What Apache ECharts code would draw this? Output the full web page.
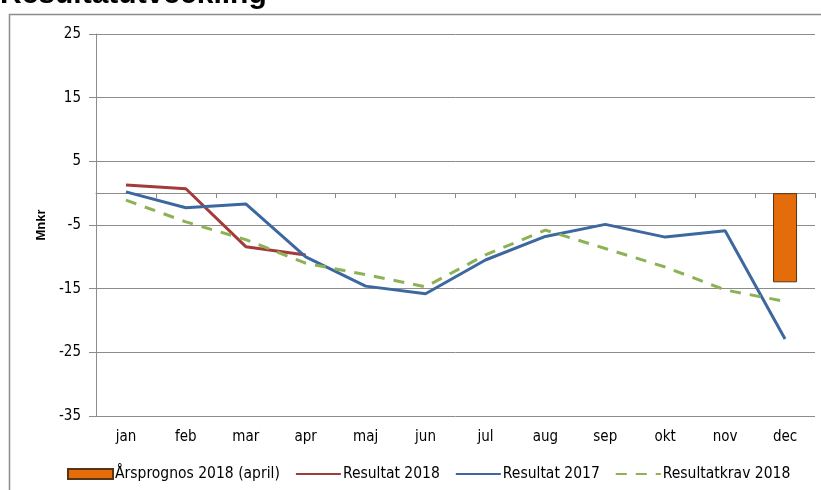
<!DOCTYPE html>
<html>
<head>
<meta charset="utf-8">
<script src="https://cdn.jsdelivr.net/npm/echarts@6/dist/echarts.min.js"></script>
<style>
  html, body { margin: 0; padding: 0; background: #fff; }
  #chart { width: 821px; height: 490px; }
</style>
</head>
<body>
<div id="chart"></div>
<script>
// månader
var months = ["jan", "feb", "mar", "apr", "maj", "jun", "jul", "aug", "sep", "okt", "nov", "dec"];
// Årsprognos 2018 (april) - bara dec
var prognos2018 = [null, null, null, null, null, null, null, null, null, null, null, -14];
var resultat2018 = [1.3, 0.7, -8.4, -9.7];
var resultat2017 = [0.2, -2.3, -1.7, -10, -14.6, -15.8, -10.5, -6.8, -4.9, -6.9, -5.9, -22.9];
var resultatkrav2018 = [-1.1, -4.5, -7.3, -11.0, -12.8, -14.7, -9.7, -5.8, -8.7, -11.6, -15.2, -17.0];
// y-axelns skala
var yTicks = [-35, -25, -15, -5, 5, 15, 25];

var font = "'Liberation Sans Narrow', 'DejaVu Sans Condensed', sans-serif";
var yMin = yTicks[0];
var yMax = yTicks[yTicks.length - 1];

var myChart = echarts.init(document.getElementById("chart"));

// dölj legendens punkt för linjeserier
var noSymbol = { color: "transparent", borderWidth: 0, opacity: 0 };

var option = {
  animation: false,
  backgroundColor: "#fff",
  graphic: [
    {
      type: "rect",
      z: -1,
      shape: { x: 9.5, y: 14.5, width: 1000, height: 1000 },
      style: { fill: "none", stroke: "#8c8c8c", lineWidth: 1.5 },
    },
    {
      type: "text",
      x: 0,
      y: -5,
      style: {
        text: "Resultatutveckling",
        font: "bold 30px 'Liberation Sans', Arial, sans-serif",
        fill: "#000",
        verticalAlign: "middle",
      },
    },
  ],
  legend: {
    left: 67,
    top: 466,
    padding: 0,
    itemWidth: 45,
    itemHeight: 10,
    itemGap: 15,
    textStyle: { fontFamily: font, fontSize: 15.5, color: "#000", padding: [0, 0, 0, -3] },
    data: [
      { name: "Årsprognos 2018 (april)", icon: "rect" },
      { name: "Resultat 2018", itemStyle: noSymbol },
      { name: "Resultat 2017", itemStyle: noSymbol },
      { name: "Resultatkrav 2018", itemStyle: noSymbol },
    ],
  },
  grid: {
    left: 96,
    right: 6,
    top: 34,
    bottom: 74,
  },
  xAxis: [
    {
      type: "category",
      data: months,
      axisLine: { onZero: true, onZeroAxisIndex: 0, lineStyle: { color: "#8c8c8c", width: 1 } },
      axisTick: { show: true, length: 5, lineStyle: { color: "#8c8c8c" } },
      axisLabel: { show: false },
      splitLine: { show: false },
    },
    {
      type: "category",
      position: "bottom",
      data: months,
      axisLine: { show: false, onZero: false },
      axisTick: { show: false },
      axisLabel: { fontFamily: font, fontSize: 15, color: "#000", margin: 14 },
      splitLine: { show: false },
    },
  ],
  yAxis: [
    {
      type: "value",
      min: yMin,
      max: yMax,
      name: "Mnkr",
      nameLocation: "middle",
      nameRotate: 90,
      nameGap: 47,
      nameTextStyle: { fontFamily: "'Liberation Sans', Arial, sans-serif", fontWeight: "bold", fontSize: 13, color: "#000" },
      axisLine: { show: true, lineStyle: { color: "#8c8c8c" } },
      axisTick: { show: true, length: 7, lineStyle: { color: "#8c8c8c" }, customValues: yTicks },
      axisLabel: { fontFamily: font, fontSize: 15, color: "#000", margin: 15, customValues: yTicks },
      splitLine: { show: false },
    },
    {
      // bara rutnät, samma höjd som axel 0
      type: "value",
      min: 0,
      max: yMax - yMin,
      interval: 10,
      position: "left",
      axisLine: { show: false },
      axisTick: { show: false },
      axisLabel: { show: false },
      splitLine: { show: true, lineStyle: { color: "#8c8c8c", width: 1 } },
    },
  ],
  series: [
    {
      name: "Årsprognos 2018 (april)",
      type: "bar",
      data: prognos2018,
      barWidth: 24,
      itemStyle: { color: "#E46C0A", borderColor: "#5a3310", borderWidth: 1 },
    },
    {
      name: "Resultat 2018",
      type: "line",
      data: resultat2018,
      symbol: "none",
      lineStyle: { color: "#A33B39", width: 3 },
      itemStyle: { color: "#A33B39" },
    },
    {
      name: "Resultat 2017",
      type: "line",
      data: resultat2017,
      symbol: "none",
      lineStyle: { color: "#3D689F", width: 3 },
      itemStyle: { color: "#3D689F" },
    },
    {
      name: "Resultatkrav 2018",
      type: "line",
      data: resultatkrav2018,
      symbol: "none",
      lineStyle: { color: "#8DB255", width: 3, type: [11, 9] },
      itemStyle: { color: "#8DB255" },
    },
  ],
};

myChart.setOption(option, true);
window.addEventListener("resize", function () {
  myChart.resize();
});
</script>
</body>
</html>
